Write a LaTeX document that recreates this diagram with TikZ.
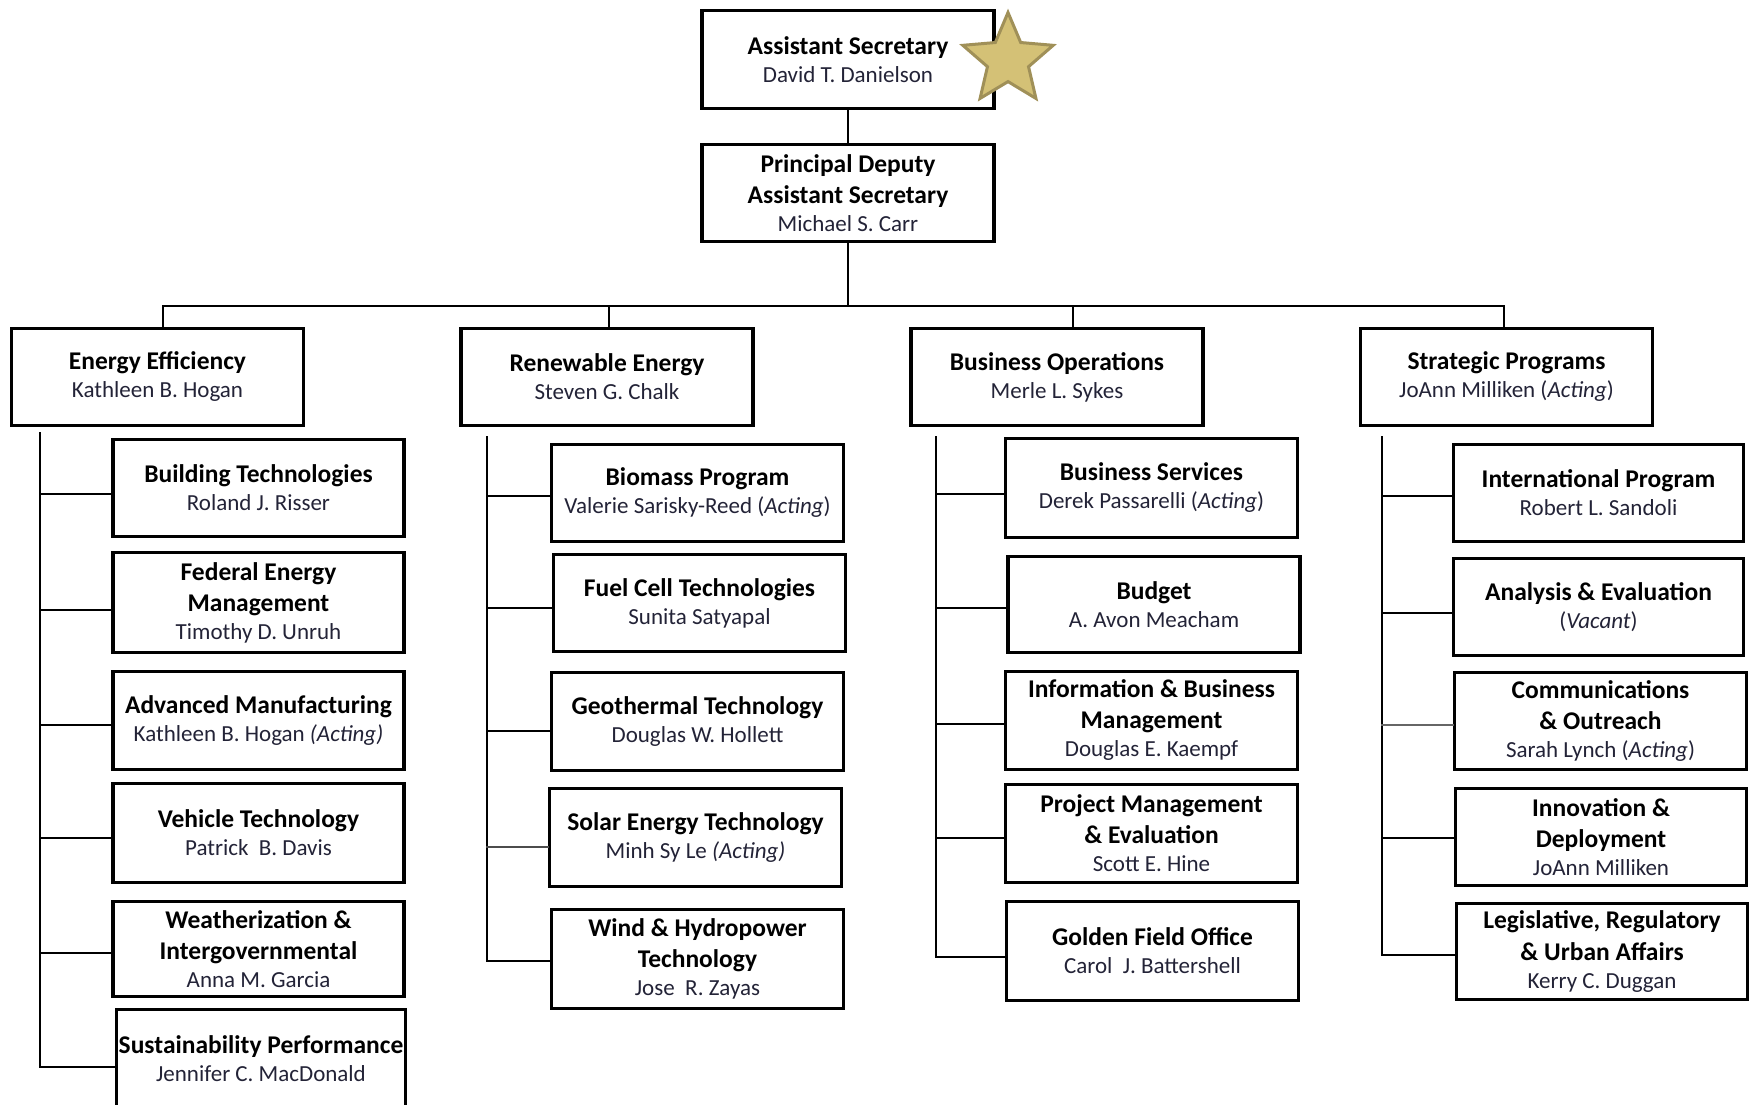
\documentclass[tikz,border=0pt]{standalone}
\usepackage{fontspec}
\setmainfont{Carlito}
\usetikzlibrary{shapes.geometric}
\definecolor{namecol}{RGB}{35,35,55}
\definecolor{starfill}{RGB}{212,193,118}
\definecolor{starline}{RGB}{160,144,88}
\newcommand\nm[1]{\\[-3pt]{\fontsize{23}{28}\selectfont\mdseries\color{namecol}#1}}
\tikzset{
  box/.style={draw=black, line width=3.5pt, fill=white, align=center, inner sep=0pt,
     font=\fontsize{25.5}{31}\selectfont\bfseries, text=black,
     execute at begin node={\rule{0pt}{23.5pt}}},
  top/.style={box, minimum width=292, minimum height=97},
  kid/.style={box, minimum width=291, minimum height=97},
  thk/.style={line width=2.8pt, line cap=rect},
  thn/.style={line width=1.8pt, line cap=rect},
}
\begin{document}
\begin{tikzpicture}[x=1pt,y=-1pt]
\useasboundingbox (0,0) rectangle (1750,1105);
\fill[white] (0,0) rectangle (1750,1105);
\clip (0,0) rectangle (1750,1105);

% top two
\node[top, minimum height=98] (as) at (848,59.5) {Assistant Secretary\nm{David T. Danielson}};
\node[top] (pdas) at (848,193) {Principal Deputy\\Assistant Secretary\nm{Michael S. Carr}};

% level 2
\node[top] (ee) at (157.5,377) {Energy Efficiency\nm{Kathleen B. Hogan}};
\node[top] (re) at (607,377) {Renewable Energy\nm{Steven G. Chalk}};
\node[top] (bo) at (1057,377) {Business Operations\nm{Merle L. Sykes}};
\node[top] (sp) at (1506.5,377) {Strategic Programs\nm{JoAnn Milliken (\textit{Acting})}};

% EE children
\node[kid] (bt) at (258.5,488) {Building Technologies\nm{Roland J. Risser}};
\node[kid, minimum height=100] (fem) at (258.5,602.5) {Federal Energy\\Management\nm{Timothy D. Unruh}};
\node[kid, minimum height=98] (am) at (258.5,720.5) {Advanced Manufacturing\nm{Kathleen B. Hogan \textit{(Acting)}}};
\node[kid, minimum height=99] (vt) at (258.5,833) {Vehicle Technology\nm{Patrick\ \ B. Davis}};
\node[kid, minimum height=95] (wi) at (258.5,949) {Weatherization \&\\Intergovernmental\nm{Anna M. Garcia}};
\node[kid, minimum width=289, minimum height=99] (su) at (261,1059) {Sustainability Performance\nm{Jennifer C. MacDonald}};

% RE children
\node[kid, minimum width=292] (bio) at (697.5,493) {Biomass Program\nm{Valerie Sarisky-Reed (\textit{Acting})}};
\node[kid, minimum width=292] (fc) at (699.5,603) {Fuel Cell Technologies\nm{Sunita Satyapal}};
\node[kid, minimum width=292, minimum height=98] (geo) at (697.5,721.5) {Geothermal Technology\nm{Douglas W. Hollett}};
\node[kid, minimum width=292, minimum height=98] (sol) at (695.5,837.5) {Solar Energy Technology\nm{Minh Sy Le \textit{(Acting)}}};
\node[kid, minimum width=292, minimum height=99] (wind) at (697.5,959) {Wind \& Hydropower\\Technology\nm{Jose\ \ R. Zayas}};

% BO children
\node[kid, minimum width=292, minimum height=99] (bs) at (1151.5,488) {Business Services\nm{Derek Passarelli (\textit{Acting})}};
\node[kid, minimum width=292, minimum height=96] (bud) at (1154,604.5) {Budget\nm{A. Avon Meacham}};
\node[kid, minimum width=292, minimum height=98] (ibm) at (1151.5,720.5) {Information \& Business\\Management\nm{Douglas E. Kaempf}};
\node[kid, minimum width=292, minimum height=98] (pme) at (1151.5,833.5) {Project Management\\\& Evaluation\nm{Scott E. Hine}};
\node[kid, minimum width=292, minimum height=99] (gfo) at (1152.5,951) {Golden Field Office\nm{Carol\ \ J. Battershell}};

% SP children
\node[kid, minimum width=290] (ip) at (1598.5,493) {International Program\nm{Robert L. Sandoli}};
\node[kid, minimum width=290] (ae) at (1598.5,607) {Analysis \& Evaluation\nm{(\textit{Vacant})}};
\node[kid, minimum width=292] (co) at (1600.5,721) {Communications\\\& Outreach\nm{Sarah Lynch (\textit{Acting})}};
\node[kid] (idp) at (1601,837) {Innovation \&\\Deployment\nm{JoAnn Milliken}};
\node[kid, minimum height=96] (lr) at (1602,951.5) {Legislative, Regulatory\\\& Urban Affairs\nm{Kerry C. Duggan}};

% star
\node[star, star points=5, star point ratio=2.2, minimum size=95, inner sep=0pt,
      fill=starfill, draw=starline, line width=3pt] (star) at (1008,60) {};

% top connectors
\coordinate (busL) at (163,306);
\coordinate (busR) at (1504,306);
\coordinate (dRE) at (609,306);
\coordinate (dBO) at (1073,306);
\draw[thn] (as.south) -- (pdas.north);
\draw[thk] (pdas.south) -- (pdas.south |- busL);
\draw[thn] (busL) -- (busR);
\draw[thk] (busL) -- (busL |- ee.north);
\draw[thk] (dRE) -- (dRE |- re.north);
\draw[thk] (dBO) -- (dBO |- bo.north);
\draw[thk] (busR) -- (busR |- sp.north);

% EE spine
\coordinate (eeT) at (40,433);
\draw[thk] (eeT) |- ([yshift=-8pt]su.west);
\draw[thk] ([yshift=-6pt]bt.west) -- ([yshift=-6pt]bt.west -| eeT);
\draw[thn] ([yshift=-7.5pt]fem.west) -- ([yshift=-7.5pt]fem.west -| eeT);
\draw[thn] ([yshift=-4.5pt]am.west) -- ([yshift=-4.5pt]am.west -| eeT);
\draw[thk] ([yshift=-5pt]vt.west) -- ([yshift=-5pt]vt.west -| eeT);
\draw[thn] ([yshift=-4pt]wi.west) -- ([yshift=-4pt]wi.west -| eeT);

% RE spine
\coordinate (reT) at (487,437);
\draw[thk] (reT) |- ([yshift=-2pt]wind.west);
\draw[thk] ([yshift=-3pt]bio.west) -- ([yshift=-3pt]bio.west -| reT);
\draw[thk] ([yshift=-5pt]fc.west) -- ([yshift=-5pt]fc.west -| reT);
\draw[thk] ([yshift=-9.5pt]geo.west) -- ([yshift=-9.5pt]geo.west -| reT);
\draw[thn, draw=black!70] ([yshift=-9.5pt]sol.west) -- ([yshift=-9.5pt]sol.west -| reT);

% BO spine
\coordinate (boT) at (936,437);
\draw[thn] (boT) |- ([yshift=-6pt]gfo.west);
\draw[thk] ([yshift=-6pt]bs.west) -- ([yshift=-6pt]bs.west -| boT);
\draw[thn] ([yshift=-3.5pt]bud.west) -- ([yshift=-3.5pt]bud.west -| boT);
\draw[thn] ([yshift=-3.5pt]ibm.west) -- ([yshift=-3.5pt]ibm.west -| boT);
\draw[thn] ([yshift=-4.5pt]pme.west) -- ([yshift=-4.5pt]pme.west -| boT);

% SP spine
\coordinate (spT) at (1382,437);
\draw[thn] (spT) |- ([yshift=-3.5pt]lr.west);
\draw[thk] ([yshift=-3pt]ip.west) -- ([yshift=-3pt]ip.west -| spT);
\draw[thn] ([yshift=-6pt]ae.west) -- ([yshift=-6pt]ae.west -| spT);
\draw[thn, draw=black!60] ([yshift=-4pt]co.west) -- ([yshift=-4pt]co.west -| spT);
\draw[thn] ([yshift=-1pt]idp.west) -- ([yshift=-1pt]idp.west -| spT);
\end{tikzpicture}
\end{document}
